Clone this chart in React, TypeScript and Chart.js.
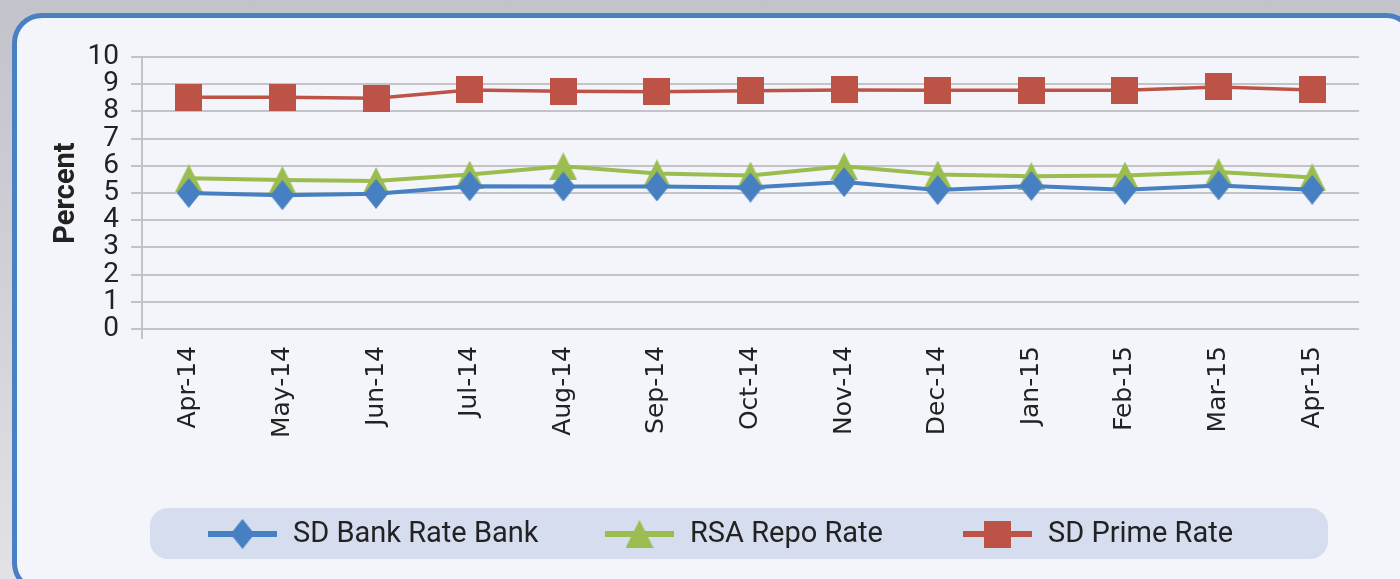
import React, { useEffect, useRef } from "react";
import { Chart, registerables } from "chart.js";

Chart.register(...registerables);

const categories = [
  "Apr-14", "May-14", "Jun-14", "Jul-14", "Aug-14", "Sep-14", "Oct-14",
  "Nov-14", "Dec-14", "Jan-15", "Feb-15", "Mar-15", "Apr-15",
];
const bankRate = [5.0, 4.92, 4.97, 5.25, 5.24, 5.24, 5.2, 5.4, 5.11, 5.26, 5.12, 5.28, 5.12];
const repoRate = [5.54, 5.48, 5.44, 5.68, 5.98, 5.72, 5.64, 5.98, 5.68, 5.62, 5.64, 5.77, 5.57];
const primeRate = [8.52, 8.52, 8.48, 8.79, 8.74, 8.72, 8.76, 8.79, 8.78, 8.78, 8.78, 8.9, 8.79];
const seriesNames = ["SD Bank Rate Bank", "RSA Repo Rate", "SD Prime Rate"];
const yTicks = [0, 1, 2, 3, 4, 5, 6, 7, 8, 9, 10];

const BLUE = "#4680c2";
const GREEN = "#9bbd50";
const RED = "#bd5347";

function makeMarker(kind: string, color: string): HTMLCanvasElement {
  const c = document.createElement("canvas");
  const ctx = c.getContext("2d")!;
  if (kind === "diamond") {
    c.width = 24; c.height = 30;
    ctx.fillStyle = color;
    ctx.beginPath();
    ctx.moveTo(12, 0); ctx.lineTo(24, 15); ctx.lineTo(12, 30); ctx.lineTo(0, 15);
    ctx.closePath(); ctx.fill();
  } else if (kind === "triangle") {
    c.width = 28; c.height = 28;
    ctx.fillStyle = color;
    ctx.beginPath();
    ctx.moveTo(14, 0); ctx.lineTo(28, 28); ctx.lineTo(0, 28);
    ctx.closePath(); ctx.fill();
  } else {
    c.width = 27; c.height = 27;
    ctx.fillStyle = color;
    ctx.fillRect(0, 0, 27, 27);
  }
  return c;
}

export default function App() {
  const ref = useRef<HTMLCanvasElement | null>(null);

  useEffect(() => {
    document.body.style.margin = "0";
    const markers = [
      makeMarker("diamond", BLUE),
      makeMarker("triangle", GREEN),
      makeMarker("square", RED),
    ];
    const colors = [BLUE, GREEN, RED];

    const legendPlugin = {
      id: "customLegend",
      afterDraw(chart: any) {
        const ctx = chart.ctx as CanvasRenderingContext2D;
        const area = chart.chartArea;
        ctx.save();
        // y axis extension below zero line
        ctx.strokeStyle = "#c3c3c8";
        ctx.lineWidth = 2;
        ctx.beginPath();
        ctx.moveTo(area.left, area.bottom);
        ctx.lineTo(area.left, area.bottom + 10);
        ctx.stroke();

        const bx = 150, by = 508, bw = 1178, bh = 51, r = 18;
        ctx.fillStyle = "#d5ddef";
        ctx.beginPath();
        ctx.roundRect(bx, by, bw, bh, r);
        ctx.fill();
        const starts = [208, 605, 963];
        const cy = by + bh / 2 + 0.5;
        ctx.font = "29px Roboto";
        ctx.textBaseline = "middle";
        ctx.textAlign = "left";
        for (let i = 0; i < 3; i++) {
          const x0 = starts[i];
          ctx.strokeStyle = colors[i];
          ctx.lineWidth = 6;
          ctx.beginPath();
          ctx.moveTo(x0, cy);
          ctx.lineTo(x0 + 69, cy);
          ctx.stroke();
          const m = markers[i];
          ctx.drawImage(m, x0 + 34.5 - m.width / 2, cy - m.height / 2);
          ctx.fillStyle = "#222222";
          ctx.fillText(chart.data.datasets[i].label, x0 + 85, cy + 1);
        }
        ctx.restore();
      },
    };

    const series = [bankRate, repoRate, primeRate];
    const widths = [4, 4, 3.5];
    const chart = new Chart(ref.current!, {
      type: "line",
      data: {
        labels: categories,
        datasets: series.map((d, i) => ({
          label: seriesNames[i],
          data: d,
          borderColor: colors[i],
          backgroundColor: colors[i],
          borderWidth: widths[i],
          pointStyle: markers[i],
          pointRadius: 14,
          tension: 0,
          fill: false,
        })),
      },
      options: {
        animation: false,
        responsive: false,
        maintainAspectRatio: false,
        layout: { padding: { left: 49, top: 57, right: 41, bottom: 0 } },
        plugins: {
          legend: { display: false },
          tooltip: { enabled: false },
        },
        scales: {
          x: {
            offset: true,
            grid: { display: false, drawTicks: false },
            border: { display: false },
            ticks: {
              autoSkip: false,
              minRotation: 90,
              maxRotation: 90,
              padding: 17,
              color: "#222222",
              font: { family: "DejaVu Sans", size: 25 },
            },
            afterFit(scale: any) {
              scale.height = 250;
            },
          },
          y: {
            min: 0,
            max: 10,
            afterBuildTicks(scale: any) {
              scale.ticks = yTicks.map((v) => ({ value: v }));
            },
            grid: { color: "#c3c3c8", lineWidth: 2, tickLength: 11 },
            border: { display: true, color: "#c3c3c8", width: 2 },
            ticks: {
              autoSkip: false,
              padding: 12,
              color: "#222222",
              font: { family: "Roboto", size: 28 },
            },
            title: {
              display: true,
              text: "Percent",
              color: "#222222",
              padding: 0,
              font: { family: "Roboto", size: 29, weight: "bold" },
            },
            afterFit(scale: any) {
              scale.width = 93;
            },
          },
        },
      },
      plugins: [legendPlugin],
    });
    return () => chart.destroy();
  }, []);

  return (
    <div
      style={{
        position: "relative",
        width: 1400,
        height: 579,
        overflow: "hidden",
        background: "linear-gradient(180deg, #c2c3cb 0%, #d4d5da 60%, #e2e2e6 100%)",
      }}
    >
      <div
        style={{
          position: "absolute",
          left: 12,
          top: 13,
          width: 1404,
          height: 580,
          boxSizing: "border-box",
          border: "5px solid #4a80c2",
          borderRadius: 30,
          background: "#f3f5fa",
        }}
      />
      <canvas
        ref={ref}
        width={1400}
        height={579}
        style={{ position: "absolute", left: 0, top: 0, width: 1400, height: 579 }}
      />
    </div>
  );
}
